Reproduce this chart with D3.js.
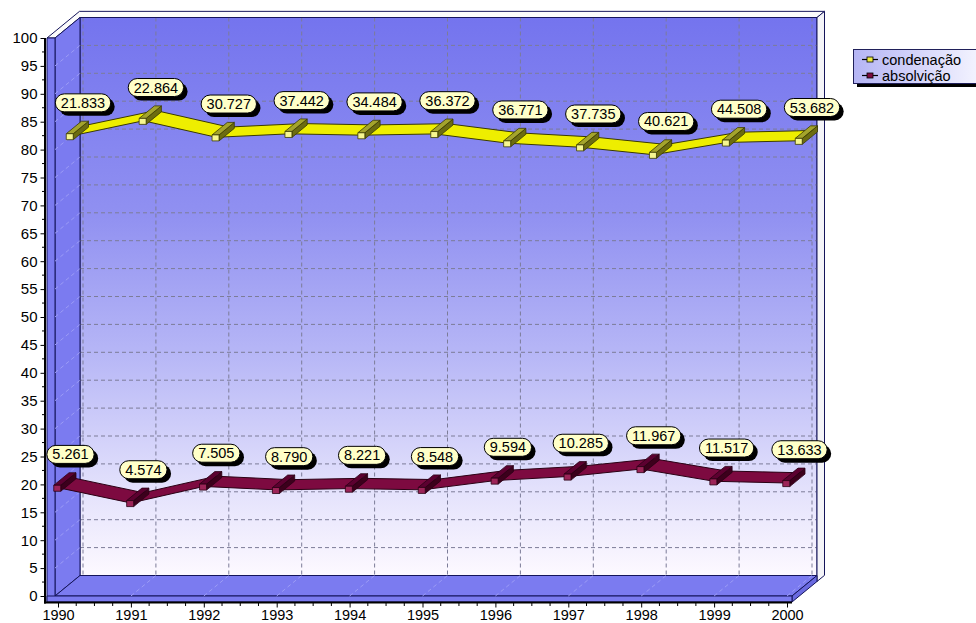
<!DOCTYPE html>
<html>
<head>
<meta charset="utf-8">
<script src="https://cdn.jsdelivr.net/npm/d3@7"></script>
<style>
  html, body { margin: 0; padding: 0; background: #ffffff; }
  svg { display: block; font-family: Arial, "Liberation Sans", sans-serif; }
</style>
</head>
<body>
<svg id="chart" width="976" height="623"></svg>
<script>
// Sentenças por ano: números absolutos (rótulos) e percentagem (linhas)
const years = [1990, 1991, 1992, 1993, 1994, 1995, 1996, 1997, 1998, 1999, 2000];
const condenacao = [21833, 22864, 30727, 37442, 34484, 36372, 36771, 37735, 40621, 44508, 53682];
const absolvicao = [5261, 4574, 7505, 8790, 8221, 8548, 9594, 10285, 11967, 11517, 13633];
const yTicks = d3.range(0, 101, 5);
const seriesNames = ["condenação", "absolvição"];

const svg = d3.select("#chart");
const defs = svg.append("defs");

// front plane scales
const x = d3.scalePoint().domain(years).range([58, 787]);
const y = d3.scaleLinear().domain([0, 100]).range([596, 38]);

// oblique depth projection
const DX = 25, DY = -20.5;
const P = (px, py, z) => [px + DX * z, py + DY * z];
const poly = pts => "M" + pts.map(p => p.join(",")).join("L") + "Z";

const xL = 55, xLo = 47, xR = 792, yTop = y(100), yBot = y(0), yBotO = 602, T = 1.3;
const edge = "#14145a", wall = "#7b7bf0";

// back wall gradient
const g = defs.append("linearGradient").attr("id", "wallGrad")
  .attr("x1", 0).attr("y1", 0).attr("x2", 0).attr("y2", 1);
[[0, "#7474ee"], [0.35, "#9090f1"], [0.6, "#b6b6f6"], [0.85, "#e4e2fc"], [1, "#fdf9ff"]]
  .forEach(([o, c]) => g.append("stop").attr("offset", o).attr("stop-color", c));

const lg = defs.append("linearGradient").attr("id", "legGrad")
  .attr("x1", 0).attr("y1", 0).attr("x2", 1).attr("y2", 0);
[[0, "#b4b4f4"], [1, "#f6f6ff"]]
  .forEach(([o, c]) => lg.append("stop").attr("offset", o).attr("stop-color", c));

const frame = svg.append("g");

// back wall
frame.append("path")
  .attr("d", poly([P(xL, yTop, 1), P(xR, yTop, 1), P(xR, yBot, 1), P(xL, yBot, 1)]))
  .attr("fill", "url(#wallGrad)").attr("stroke", edge);

// back wall grid
const grid = frame.append("g").attr("stroke", "#7c7c98").attr("stroke-dasharray", "4,3").attr("fill", "none");
yTicks.filter(v => v > 0 && v < 100).forEach(v => {
  const a = P(xL, y(v), 1), b = P(xR, y(v), 1);
  grid.append("line").attr("x1", a[0]).attr("y1", a[1]).attr("x2", b[0]).attr("y2", b[1]);
});
years.forEach(yr => {
  const a = P(x(yr), yTop, 1), b = P(x(yr), yBot, 1);
  grid.append("line").attr("x1", a[0]).attr("y1", a[1]).attr("x2", b[0]).attr("y2", b[1]);
});

// top of wall slabs
frame.append("path")
  .attr("d", poly([[xLo, yTop], [xL, yTop], P(xL, yTop, 1), P(xR, yTop, 1), P(xR, yTop, T), P(xLo, yTop, T)]))
  .attr("fill", "#fbfbfb").attr("stroke", edge);
// right side of back slab
frame.append("path")
  .attr("d", poly([P(xR, yTop, 1), P(xR, yTop, T), P(xR, yBotO, T), P(xR, yBotO, 1)]))
  .attr("fill", "#f4f4f8").attr("stroke", edge);
// left wall inner face
frame.append("path")
  .attr("d", poly([[xL, yTop], P(xL, yTop, 1), P(xL, yBot, 1), [xL, yBot]]))
  .attr("fill", wall).attr("stroke", edge);
// floor top
frame.append("path")
  .attr("d", poly([[xL, yBot], P(xL, yBot, 1), P(xR, yBot, 1), [xR, yBot]]))
  .attr("fill", wall).attr("stroke", edge);
// floor right side
frame.append("path")
  .attr("d", poly([[xR, yBot], P(xR, yBot, 1), P(xR, yBotO, 1), [xR, yBotO]]))
  .attr("fill", "#6a6ae0").attr("stroke", edge);
// left wall front face and floor front face
frame.append("path")
  .attr("d", poly([[xLo, yTop], [xL, yTop], [xL, yBotO], [xLo, yBotO]]))
  .attr("fill", wall).attr("stroke", edge);
frame.append("path")
  .attr("d", poly([[xLo, yBot], [xR, yBot], [xR, yBotO], [xLo, yBotO]]))
  .attr("fill", wall).attr("stroke", edge);

// faint grid on side wall and floor
const faint = frame.append("g").attr("stroke", "#9c9cf6").attr("stroke-dasharray", "4,3");
yTicks.filter(v => v > 0 && v < 100).forEach(v => {
  const b = P(xL, y(v), 1);
  faint.append("line").attr("x1", xL).attr("y1", y(v)).attr("x2", b[0]).attr("y2", b[1]);
});
years.slice(1).forEach(yr => {
  const b = P(x(yr), yBot, 1);
  faint.append("line").attr("x1", x(yr)).attr("y1", yBot).attr("x2", b[0]).attr("y2", b[1]);
});

// percentages from the counts
const pctC = years.map((_, i) => condenacao[i] / (condenacao[i] + absolvicao[i]) * 100);
const pctA = years.map((_, i) => absolvicao[i] / (condenacao[i] + absolvicao[i]) * 100);

const series = [
  { name: seriesNames[0], counts: condenacao, pct: pctC, z0: 0.5,
    fill: "#eeee00", line: "#3a3a00", mFront: "#f6f690", mTop: "#a4a42c", mSide: "#6c6c10" },
  { name: seriesNames[1], counts: absolvicao, pct: pctA, z0: 0,
    fill: "#7d0a40", line: "#2a0014", mFront: "#9c2458", mTop: "#5c0030", mSide: "#3c001c" }
];

const plot = svg.append("g");
series.forEach(s => {
  const pts = years.map((yr, i) => [x(yr), y(s.pct[i])]);
  // ribbon
  for (let i = 0; i < pts.length - 1; i++) {
    const [a, b] = [pts[i], pts[i + 1]];
    plot.append("path")
      .attr("d", poly([P(a[0], a[1], s.z0), P(b[0], b[1], s.z0), P(b[0], b[1], s.z0 + 0.5), P(a[0], a[1], s.z0 + 0.5)]))
      .attr("fill", s.fill).attr("stroke", s.line).attr("stroke-width", 1).attr("stroke-linejoin", "round");
  }
});

// markers: small prisms running along the depth
series.forEach(s => {
  const za = s.z0 - 0.03, zb = s.z0 + 0.58, hw = 3.5, hh = 3;
  years.forEach((yr, i) => {
    const cx = x(yr), cy = y(s.pct[i]);
    const g2 = plot.append("g").attr("stroke", s.line).attr("stroke-width", 0.8).attr("stroke-linejoin", "round");
    g2.append("path").attr("d", poly([P(cx + hw, cy - hh, za), P(cx + hw, cy - hh, zb), P(cx + hw, cy + hh, zb), P(cx + hw, cy + hh, za)]))
      .attr("fill", s.mSide);
    g2.append("path").attr("d", poly([P(cx - hw, cy - hh, za), P(cx - hw, cy - hh, zb), P(cx + hw, cy - hh, zb), P(cx + hw, cy - hh, za)]))
      .attr("fill", s.mTop);
    g2.append("path").attr("d", poly([P(cx - hw, cy - hh, za), P(cx + hw, cy - hh, za), P(cx + hw, cy + hh, za), P(cx - hw, cy + hh, za)]))
      .attr("fill", s.mFront);
  });
});

// axes
const axes = svg.append("g");
const yAxis = d3.axisLeft(y).tickValues(yTicks).tickSize(5).tickPadding(3);
const yg = axes.append("g").attr("transform", "translate(45.5,0)").call(yAxis);
yg.select(".domain").remove();
yg.selectAll("text").attr("font-size", 15).attr("fill", "#000").attr("font-family", "Arial, 'Liberation Sans', sans-serif");
yg.selectAll("line").attr("stroke", "#000");
// minor ticks
axes.append("g").selectAll("line").data(d3.range(2.5, 100, 5)).join("line")
  .attr("x1", 42).attr("x2", 45).attr("y1", d => y(d)).attr("y2", d => y(d)).attr("stroke", "#000");

const xAxis = d3.axisBottom(x).tickSize(5).tickPadding(2);
const xg = axes.append("g").attr("transform", `translate(0,${yBotO + 0.5})`).call(xAxis);
xg.select(".domain").remove();
xg.selectAll("text").attr("font-size", 14.5).attr("fill", "#000").attr("dy", "10px")
  .attr("font-family", "Arial, 'Liberation Sans', sans-serif");
xg.selectAll("line").attr("stroke", "#000");
const step = x.step();
axes.append("g").selectAll("line")
  .data(d3.range(0, years.length - 1).flatMap(i => [1, 2, 3].map(k => x(years[i]) + step * k / 4)))
  .join("line").attr("x1", d => d).attr("x2", d => d).attr("y1", yBotO).attr("y2", yBotO + 4).attr("stroke", "#000");

axes.append("line").attr("x1", 45).attr("x2", 45).attr("y1", yTop).attr("y2", yBotO + 1.5)
  .attr("stroke", "#000").attr("stroke-width", 2);
axes.append("line").attr("x1", 44).attr("x2", xR).attr("y1", yBotO + 0.5).attr("y2", yBotO + 0.5)
  .attr("stroke", "#000").attr("stroke-width", 2);

// value bubbles
const fmt = d3.formatLocale({ decimal: ",", thousands: ".", grouping: [3], currency: ["", ""] }).format(",d");
const labels = svg.append("g").attr("font-size", 14.5).attr("text-anchor", "middle");
series.forEach(s => {
  years.forEach((yr, i) => {
    const c = P(x(yr), y(s.pct[i]), s.z0 + 0.5);
    const cx = c[0], cy = c[1] - 23;
    const txt = fmt(s.counts[i]);
    const gl = labels.append("g");
    const t = gl.append("text").attr("x", cx).attr("y", cy + 5).text(txt).attr("fill", "#000");
    const w = t.node().getComputedTextLength() + 11, h = 18;
    gl.insert("rect", "text").attr("x", cx - w / 2 + 4).attr("y", cy - h / 2 + 4).attr("width", w).attr("height", h)
      .attr("rx", h / 2).attr("fill", "#000");
    gl.insert("rect", "text").attr("x", cx - w / 2).attr("y", cy - h / 2).attr("width", w).attr("height", h)
      .attr("rx", h / 2).attr("fill", "#ffffc8").attr("stroke", "#000").attr("stroke-width", 1);
  });
});

// legend
const leg = svg.append("g").attr("transform", "translate(853,49)");
leg.append("rect").attr("x", 4).attr("y", 4).attr("width", 130).attr("height", 34).attr("fill", "#000");
leg.append("rect").attr("x", 0.5).attr("y", 0.5).attr("width", 130).attr("height", 34)
  .attr("fill", "url(#legGrad)").attr("stroke", "#20205a");
series.forEach((s, i) => {
  const ly = 10.5 + i * 16;
  leg.append("line").attr("x1", 9).attr("x2", 25).attr("y1", ly).attr("y2", ly).attr("stroke", "#000").attr("stroke-width", 1.2);
  leg.append("rect").attr("x", 14).attr("y", ly - 2.5).attr("width", 6).attr("height", 5)
    .attr("fill", i === 0 ? "#eeee40" : "#7d0a40").attr("stroke", "#000").attr("stroke-width", 0.8);
  leg.append("text").attr("x", 29).attr("y", ly + 5).attr("font-size", 14.5).attr("fill", "#000").text(s.name);
});
</script>
</body>
</html>
